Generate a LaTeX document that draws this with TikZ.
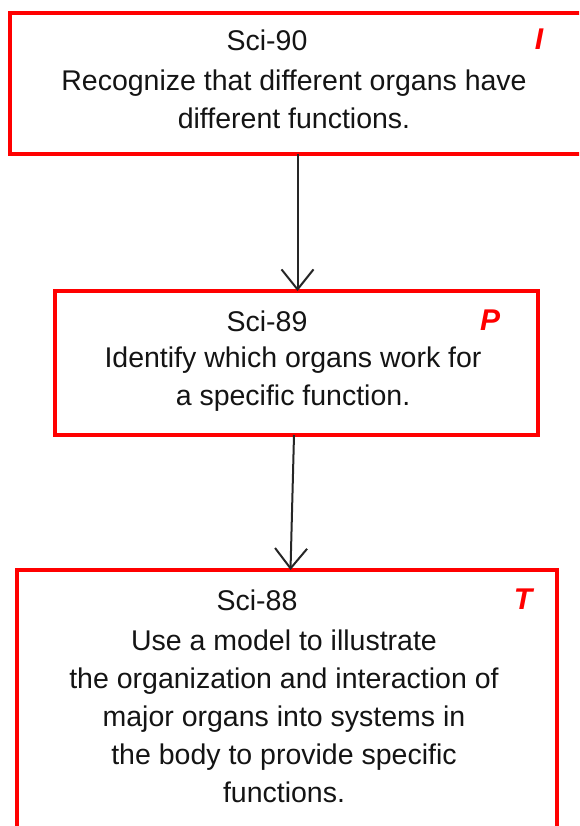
\documentclass[tikz,border=0pt]{standalone}
\usepackage{fontspec}
\setmainfont{Liberation Sans}
\usetikzlibrary{arrows.meta}
\definecolor{boxred}{RGB}{255,0,0}
\definecolor{txt}{RGB}{20,20,20}
\tikzset{
  redbox/.style={draw=boxred, line width=4pt, fill=white, inner sep=0pt, outer sep=0pt},
  titletext/.style={text=txt, font=\fontsize{28.5}{38}\selectfont, inner sep=0pt, anchor=base},
  bodytext/.style={text=txt, font=\fontsize{28.5}{38}\selectfont, align=center, inner sep=0pt},
  levelmark/.style={text=boxred, font=\fontsize{30}{34}\selectfont\bfseries\itshape, inner sep=0pt},
  flow/.style={draw=black!85, line width=2pt, -{Straight Barb[length=20pt,width=32pt,line width=2pt]}}
}
\begin{document}
\begin{tikzpicture}[x=1pt,y=-1pt]
\useasboundingbox (0,0) rectangle (579,826);
\clip (0,0) rectangle (579,826);
% boxes
\node[redbox, minimum width=590pt, minimum height=141pt] (b1) at (305,83.5) {};
\node[redbox, minimum width=483pt, minimum height=144pt] (b2) at (296.5,363) {};
\node[redbox, minimum width=540pt, minimum height=300pt] (b3) at (287,720) {};
% texts
\node[titletext] (t1) at (267,51) {Sci-90};
\node[bodytext] (d1) at (294,99) {Recognize that different organs have\\different functions.};
\node[levelmark] (m1) at (539,39) {I};
\node[titletext] (t2) at (267,331) {Sci-89};
\node[bodytext] (d2) at (293,379) {Identify which organs work for\\a specific function.};
\node[levelmark] (m2) at (490,320) {P};
\node[titletext] (t3) at (257,610) {Sci-88};
\node[bodytext] (d3) at (284,716) {Use a model to illustrate\\the organization and interaction of\\major organs into systems in\\the body to provide specific\\functions.};
\node[levelmark] (m3) at (523,599) {T};
% connectors
\coordinate (x1) at (297.5,0);
\coordinate (x2a) at (294,0);
\coordinate (x2b) at (290.5,0);
\draw[flow] (x1 |- b1.south) -- (x1 |- b2.north);
\draw[flow] (x2a |- b2.south) -- (x2b |- b3.north);
\end{tikzpicture}
\end{document}
